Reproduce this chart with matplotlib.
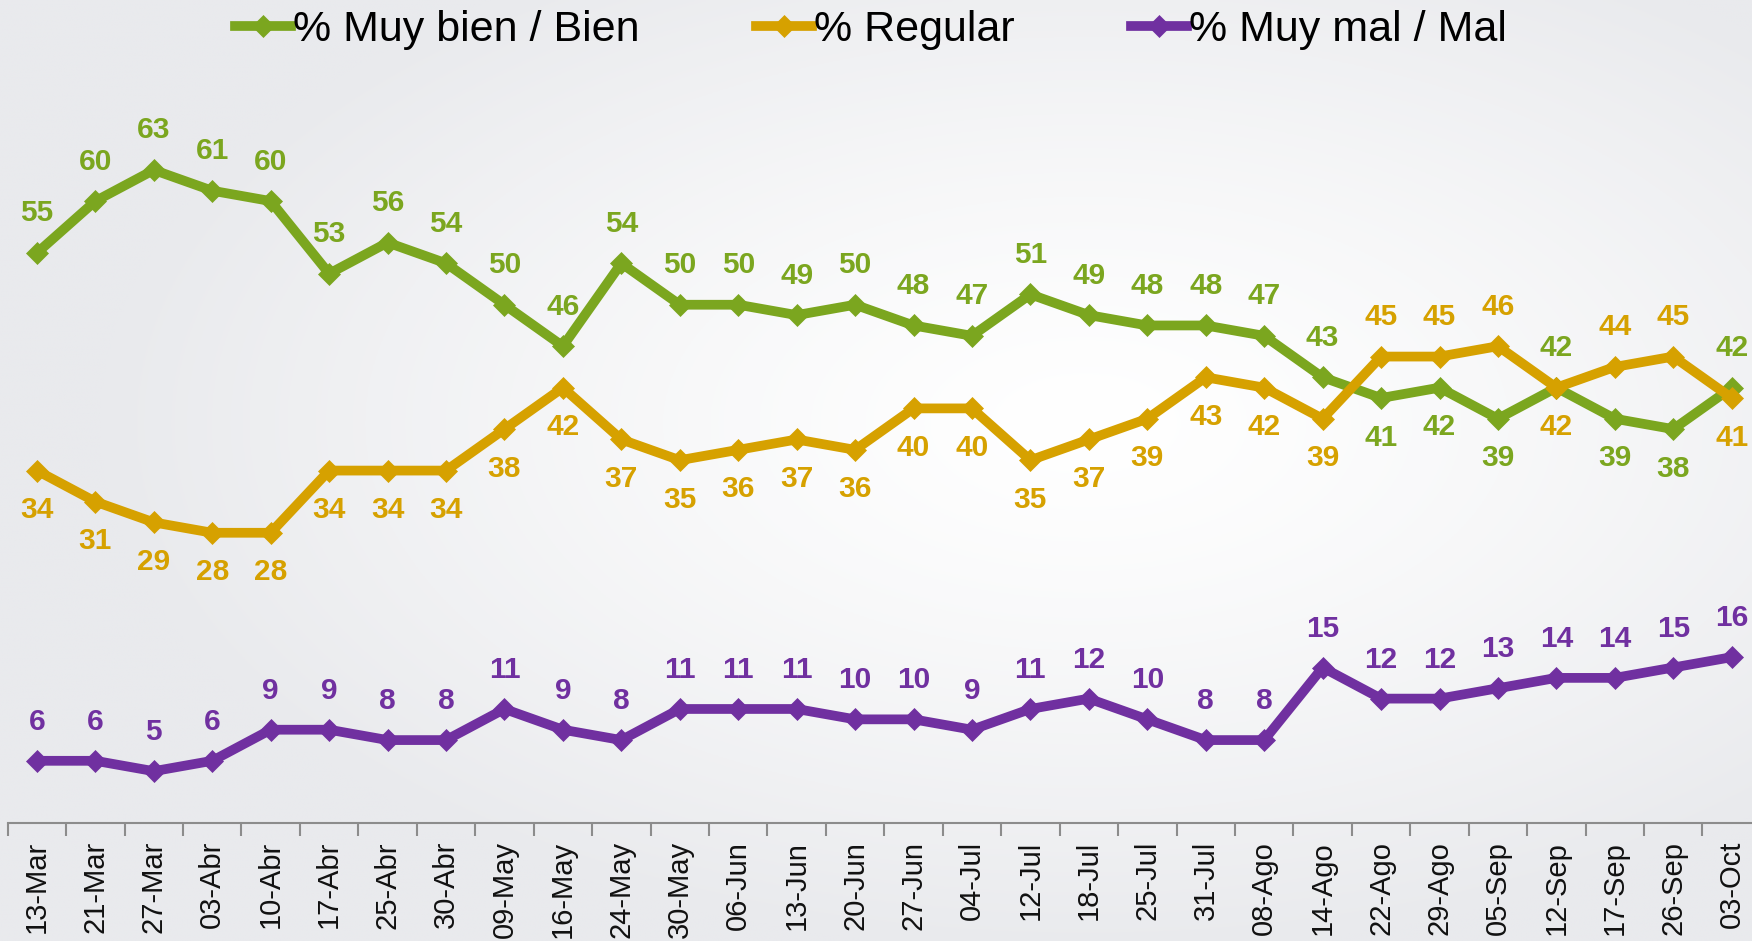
import matplotlib.pyplot as plt
import numpy as np

fechas = ['13-Mar', '21-Mar', '27-Mar', '03-Abr', '10-Abr', '17-Abr', '25-Abr', '30-Abr',
          '09-May', '16-May', '24-May', '30-May', '06-Jun', '13-Jun', '20-Jun', '27-Jun',
          '04-Jul', '12-Jul', '18-Jul', '25-Jul', '31-Jul', '08-Ago', '14-Ago', '22-Ago',
          '29-Ago', '05-Sep', '12-Sep', '17-Sep', '26-Sep', '03-Oct']
bien = [55, 60, 63, 61, 60, 53, 56, 54, 50, 46, 54, 50, 50, 49, 50, 48, 47, 51, 49, 48,
        48, 47, 43, 41, 42, 39, 42, 39, 38, 42]
regular = [34, 31, 29, 28, 28, 34, 34, 34, 38, 42, 37, 35, 36, 37, 36, 40, 40, 35, 37, 39,
           43, 42, 39, 45, 45, 46, 42, 44, 45, 41]
mal = [6, 6, 5, 6, 9, 9, 8, 8, 11, 9, 8, 11, 11, 11, 10, 10, 9, 11, 12, 10,
       8, 8, 15, 12, 12, 13, 14, 14, 15, 16]

green = '#7BA61F'
orange = '#D6A100'
purple = '#7030A0'

fig = plt.figure(figsize=(17.52, 9.41), dpi=100)

# radial gray/white background
bg = fig.add_axes([0, 0, 1, 1], zorder=-10)
yy, xx = np.mgrid[0:1:400j, 0:1:700j]
r = np.sqrt(((xx - 0.62) / 0.75) ** 2 + ((yy - 0.45) / 0.75) ** 2)
t = np.clip(r / 0.75, 0, 1) ** 1.3
c0 = np.array([1.0, 1.0, 1.0])
c1 = np.array([233, 234, 237]) / 255.0
img = c0[None, None, :] * (1 - t[..., None]) + c1[None, None, :] * t[..., None]
bg.imshow(img, extent=[0, 1, 0, 1], aspect='auto', origin='upper')
bg.axis('off')

ax = fig.add_axes([0.0044, 0.1254, 1.0007, 0.8746])
ax.patch.set_alpha(0)
x = np.arange(len(fechas))

lw = 7
ms = 11.5
l1, = ax.plot(x, bien, color=green, lw=lw, marker='D', ms=ms, mew=0.5,
              label='% Muy bien / Bien')
l2, = ax.plot(x, regular, color=orange, lw=lw, marker='D', ms=ms, mew=0.5,
              label='% Regular')
l3, = ax.plot(x, mal, color=purple, lw=lw, marker='D', ms=ms, mew=0.5,
              label='% Muy mal / Mal')

lab_font = dict(family='Liberation Sans', fontweight='bold',
                fontsize=21.5, ha='center', va='center')
off = 28.5

for i in range(len(fechas)):
    green_up = bien[i] >= regular[i] or i in (26, 29)
    ax.annotate(str(bien[i]), (x[i], bien[i]), xytext=(0, off if green_up else -off),
                textcoords='offset points', color=green, **lab_font)
    ax.annotate(str(regular[i]), (x[i], regular[i]), xytext=(0, -off if green_up else off),
                textcoords='offset points', color=orange, **lab_font)
    ax.annotate(str(mal[i]), (x[i], mal[i]), xytext=(0, 28),
                textcoords='offset points', color=purple, **lab_font)

ax.set_xlim(-0.5, len(fechas) - 0.5)
ax.set_ylim(0, 79.4)
ax.set_xticks(x)
ax.set_xticklabels(fechas, rotation=90, fontsize=21, family='Liberation Sans', color='#111111')
ax.set_xticks(np.arange(-0.5, len(fechas), 1), minor=True)
ax.tick_params(axis='x', which='major', length=0, pad=13)
ax.tick_params(axis='x', which='minor', length=9, width=1.5, color='#8C8C8C')
ax.set_yticks([])
for s in ['top', 'right', 'left']:
    ax.spines[s].set_visible(False)
ax.spines['bottom'].set_color('#8C8C8C')
ax.spines['bottom'].set_linewidth(1.5)

fig.legend(handles=[l1, l2, l3], loc='center', bbox_to_anchor=(0.497, 0.968), ncol=3,
           frameon=False, prop={'family': 'Liberation Sans', 'size': 31},
           handlelength=1.3, handletextpad=0.05, columnspacing=2.7)

fig.savefig('out.png', dpi=100)
